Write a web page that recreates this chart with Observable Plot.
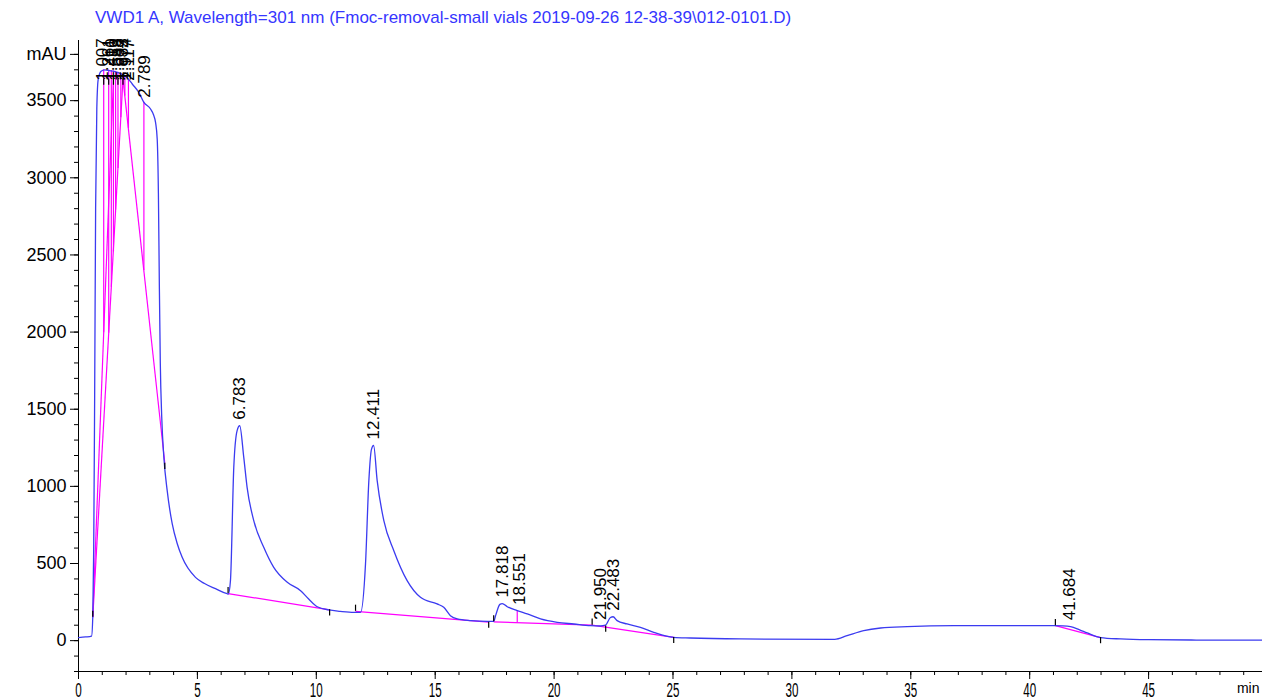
<!DOCTYPE html>
<html>
<head>
<meta charset="utf-8">
<script src="https://cdn.jsdelivr.net/npm/d3@7"></script>
<script src="https://cdn.jsdelivr.net/npm/@observablehq/plot@0.6"></script>
<style>
  body { margin: 0; background: #fff; }
  #title {
    height: 34px; box-sizing: border-box; padding: 8px 0 0 95px;
    font: 17px "Liberation Sans", Arial, sans-serif; color: #3636ff; white-space: nowrap;
  }
  #chart svg { display: block; overflow: visible; }
</style>
</head>
<body>
<div id="title">VWD1 A, Wavelength=301 nm (Fmoc-removal-small vials 2019-09-26 12-38-39\012-0101.D)</div>
<div id="chart"></div>
<script>
// Detector trace: retention time (min) and absorbance (mAU)
const time = [0, 0.30, 0.55, 0.60, 0.64, 0.68, 0.72, 0.77, 0.83, 0.95, 1.10, 1.30, 1.50, 1.70, 1.95, 2.10,
  2.26, 2.54, 2.75, 3.03, 3.15, 3.24, 3.31, 3.36, 3.40, 3.44, 3.50, 3.59, 3.73, 3.94, 4.15, 4.36, 4.92,
  5.30, 5.76, 6.25, 6.30, 6.39, 6.53, 6.67, 6.78, 6.95, 7.09, 7.37, 7.79, 8.21, 8.78, 9.34, 9.68, 10.04,
  10.53, 11.00, 11.58, 11.86, 12.07, 12.21, 12.32, 12.41, 12.56, 12.84, 13.26, 13.82, 14.38, 15.08, 15.36,
  15.64, 15.93, 16.50, 17.19, 17.46, 17.54, 17.72, 17.82, 18.03, 18.45, 18.87, 19.43, 20.13, 20.83, 21.53,
  21.95, 22.16, 22.37, 22.48, 22.65, 23.07, 23.63, 24.19, 25.03, 25.73, 27.84, 31.80, 32.32, 33.02, 33.73,
  34.85, 36.81, 41.01, 41.40, 41.72, 42.10, 42.42, 42.98, 43.82, 45.00, 47.00, 49.79];
const mAU = [20, 24, 30, 151, 600, 1600, 2800, 3450, 3640, 3690, 3700, 3695, 3690, 3680, 3660, 3640,
  3608, 3553, 3489, 3446, 3410, 3359, 3250, 2900, 2300, 1800, 1450, 1188, 972, 758, 630, 540, 410,
  370, 337, 304, 302, 389, 1123, 1361, 1393, 1188, 994, 778, 605, 475, 378, 324, 270, 220,
  199, 190, 183, 183, 499, 1037, 1240, 1265, 1037, 778, 583, 389, 281, 238, 216,
  162, 141, 130, 125, 125, 162, 235, 240, 220, 195, 173, 141, 119, 108, 97,
  95, 100, 150, 155, 130, 108, 86, 54, 21, 17, 11, 8, 32, 65, 82,
  91, 97, 97, 96, 91, 70, 50, 20, 11, 6, 4, 3];

// Integration baselines (start -> end)
const baseStartT = [0.60, 0.60, 1.87, 6.29, 11.65, 17.46, 21.60, 41.08];
const baseStartV = [151, 151, 3640, 305, 190, 122, 100, 97];
const baseEndT = [1.47, 1.87, 3.63, 10.56, 17.25, 21.60, 25.03, 42.98];
const baseEndV = [3640, 3640, 1150, 200, 120, 100, 21, 20];

// Drop lines between fused peaks
const dropT = [1.06, 1.27, 1.38, 1.47, 1.56, 1.66, 1.78, 1.95, 2.10, 2.75, 18.45];
const dropBase = [1996, 1992, 2290, 2520, 2790, 3060, 3390, 3530, 3320, 2400, 117];
const dropTop = [3700, 3698, 3696, 3692, 3690, 3685, 3675, 3660, 3640, 3489, 195];

// Peak start (up) and end (down) markers
const startT = [0.60, 6.29, 11.65, 17.46, 21.60, 41.08, 1.06, 1.27, 1.47, 1.66, 1.87];
const startV = [151, 305, 190, 122, 100, 97, 3600, 3600, 3600, 3600, 3600];
const endT = [3.63, 10.56, 17.25, 22.17, 25.03, 42.98];
const endV = [1150, 200, 120, 95, 21, 20];

// Retention time labels and the height they sit at
const peakT = [1.007, 1.261, 1.410, 1.553, 1.688, 1.833, 1.974, 2.117, 2.789,
  6.783, 12.411, 17.818, 18.551, 21.950, 22.483, 41.684];
const peakV = [3590, 3590, 3590, 3590, 3590, 3590, 3590, 3590, 3480,
  1393, 1265, 240, 192, 95, 155, 93];

// Axis ticks
const xMajor = [0, 5, 10, 15, 20, 25, 30, 35, 40, 45];
const xMinor = d3.range(0, 50, 1);
const yMajor = [0, 500, 1000, 1500, 2000, 2500, 3000, 3500, 3800];
const yMinor = d3.range(-200, 3801, 100);

const trace = time.map((t, i) => ({t, v: mAU[i]}));
const baselines = baseStartT.map((t, i) => ({t1: t, v1: baseStartV[i], t2: baseEndT[i], v2: baseEndV[i]}));
const drops = dropT.map((t, i) => ({t, v1: dropBase[i], v2: dropTop[i]}));
const starts = startT.map((t, i) => ({t, v: startV[i]}));
const ends = endT.map((t, i) => ({t, v: endV[i]}));
const peaks = peakT.map((t, i) => ({t, v: peakV[i], label: t.toFixed(3)}));

const tick = 40; // marker length in mAU
const magenta = "#ff00ff";

const chart = Plot.plot({
  width: 1262,
  height: 665,
  marginLeft: 78,
  marginRight: 0,
  marginTop: 6,
  marginBottom: 28,
  x: {domain: [0, 49.79]},
  y: {domain: [-200, 3890]},
  style: {fontFamily: "'Liberation Sans', Arial, sans-serif", fontSize: "16px", color: "black", background: "white", overflow: "visible"},
  marks: [
    Plot.axisX({ticks: xMinor, tickSize: 4, tickFormat: () => "", label: null}),
    Plot.axisX({ticks: xMajor, tickSize: 8, tickPadding: 3, label: null, className: "xlab"}),
    Plot.axisY({ticks: yMinor, tickSize: 4, tickFormat: () => "", label: null}),
    Plot.axisY({ticks: yMajor, tickSize: 8, tickPadding: 4, label: null, fontSize: 18,
      tickFormat: d => d === 3800 ? "mAU" : String(d)}),
    Plot.ruleX([0], {stroke: "black"}),
    Plot.ruleY([-200], {stroke: "black"}),
    Plot.text(["min"], {frameAnchor: "bottom-right", dx: -3, dy: 12, textAnchor: "end", lineAnchor: "top",
      fontSize: 14}),
    Plot.link(baselines, {x1: "t1", y1: "v1", x2: "t2", y2: "v2", stroke: magenta, strokeWidth: 1.2}),
    Plot.ruleX(drops, {x: "t", y1: "v1", y2: "v2", stroke: magenta, strokeWidth: 1.2}),
    Plot.line(trace, {x: "t", y: "v", stroke: "#3b3bf0", strokeWidth: 1.3, curve: "monotone-x"}),
    Plot.ruleX(starts, {x: "t", y1: "v", y2: d => d.v + tick, stroke: "black", strokeWidth: 1.2}),
    Plot.ruleX(ends, {x: "t", y1: "v", y2: d => d.v - tick, stroke: "black", strokeWidth: 1.2}),
    Plot.text(peaks, {x: "t", y: "v", text: "label", rotate: -90, textAnchor: "start",
      lineAnchor: "middle", dy: -6, fontSize: 17, fill: "black"})
  ]
});
document.getElementById("chart").appendChild(chart);

// Condensed time-axis lettering
d3.select(chart).selectAll(".xlab text").each(function () {
  this.setAttribute("font-size", "20");
  this.style.fontSize = "20px";
  const w = this.getComputedTextLength();
  this.setAttribute("textLength", (w * 0.58).toFixed(1));
  this.setAttribute("lengthAdjust", "spacingAndGlyphs");
});
</script>
</body>
</html>
